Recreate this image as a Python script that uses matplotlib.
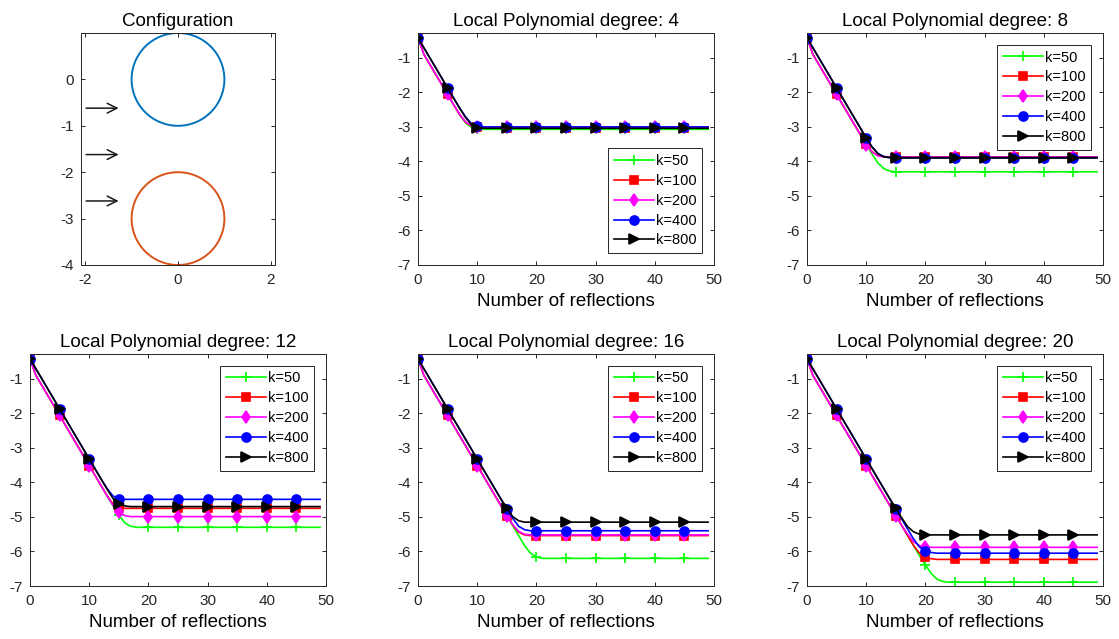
import matplotlib
matplotlib.use('Agg')
import matplotlib.pyplot as plt
from matplotlib.patches import Circle

plt.rcParams['font.family'] = ['Liberation Sans', 'DejaVu Sans']
plt.rcParams['axes.unicode_minus'] = False

# configuration panel: two circles and three incoming arrows
circle_centers = [(0.0, 0.0), (0.0, -3.0)]
circle_radii = [1.0, 1.0]
circle_colors = ['#0072BD', '#D95319']
arrow_y = [-0.62, -1.62, -2.62]
arrow_x_start = -1.98
arrow_x_end = -1.28

# error (log10) vs number of reflections, one list per degree and k
reflections = list(range(50))
k_labels = ['k=50', 'k=100', 'k=200', 'k=400', 'k=800']
degrees = [4, 8, 12, 16, 20]

deg4_k50 = [-0.42, -0.90, -1.19, -1.48, -1.77, -2.06, -2.35, -2.64, -2.88, -3.01, -3.06] + [-3.07] * 39
deg4_k100 = [-0.42, -0.90, -1.19, -1.48, -1.77, -2.06, -2.35, -2.63, -2.86, -2.97, -3.01] + [-3.02] * 39
deg4_k200 = [-0.42, -0.90, -1.19, -1.48, -1.77, -2.06, -2.35, -2.63, -2.85, -2.96, -3.00] + [-3.01] * 39
deg4_k400 = [-0.42, -0.71, -1.00, -1.29, -1.58, -1.87, -2.16, -2.44, -2.70, -2.90, -2.98] + [-3.00] * 39
deg4_k800 = [-0.42, -0.71, -1.00, -1.29, -1.58, -1.87, -2.16, -2.45, -2.72, -2.93, -3.02] + [-3.04] * 39

deg8_k50 = [-0.42, -0.90, -1.19, -1.48, -1.77, -2.06, -2.35, -2.64, -2.93, -3.22, -3.51,
            -3.79, -4.05, -4.21, -4.28] + [-4.30] * 35
deg8_k100 = [-0.42, -0.90, -1.19, -1.48, -1.77, -2.06, -2.35, -2.64, -2.93, -3.22, -3.50,
             -3.72, -3.83, -3.86] + [-3.87] * 36
deg8_k200 = [-0.42, -0.90, -1.19, -1.48, -1.77, -2.06, -2.35, -2.64, -2.93, -3.22, -3.51,
             -3.73, -3.84, -3.87] + [-3.88] * 36
deg8_k400 = [-0.42, -0.71, -1.00, -1.29, -1.58, -1.87, -2.16, -2.45, -2.74, -3.03, -3.32,
             -3.58, -3.77, -3.86] + [-3.89] * 36
deg8_k800 = [-0.42, -0.71, -1.00, -1.29, -1.58, -1.87, -2.16, -2.45, -2.74, -3.03, -3.32,
             -3.59, -3.78, -3.87, -3.89] + [-3.90] * 35

deg12_k50 = [-0.42, -0.90, -1.19, -1.48, -1.77, -2.06, -2.35, -2.64, -2.93, -3.22, -3.51,
             -3.80, -4.09, -4.38, -4.67, -4.94, -5.17, -5.27] + [-5.30] * 32
deg12_k100 = [-0.42, -0.90, -1.19, -1.48, -1.77, -2.06, -2.35, -2.64, -2.93, -3.22, -3.51,
              -3.80, -4.09, -4.38, -4.62, -4.72] + [-4.75] * 34
deg12_k200 = [-0.42, -0.90, -1.19, -1.48, -1.77, -2.06, -2.35, -2.64, -2.93, -3.22, -3.51,
              -3.80, -4.09, -4.38, -4.66, -4.86, -4.96] + [-4.99] * 33
deg12_k400 = [-0.42, -0.71, -1.00, -1.29, -1.58, -1.87, -2.16, -2.45, -2.74, -3.03, -3.32,
              -3.61, -3.90, -4.17, -4.39, -4.47] + [-4.49] * 34
deg12_k800 = [-0.42, -0.71, -1.00, -1.29, -1.58, -1.87, -2.16, -2.45, -2.74, -3.03, -3.32,
              -3.61, -3.90, -4.19, -4.46, -4.62, -4.68] + [-4.70] * 33

deg16_k50 = [-0.42, -0.90, -1.19, -1.48, -1.77, -2.06, -2.35, -2.64, -2.93, -3.22, -3.51,
             -3.80, -4.09, -4.38, -4.67, -4.96, -5.25, -5.54, -5.83, -6.05, -6.16] + [-6.20] * 29
deg16_k100 = [-0.42, -0.90, -1.19, -1.48, -1.77, -2.06, -2.35, -2.64, -2.93, -3.22, -3.51,
              -3.80, -4.09, -4.38, -4.67, -4.96, -5.23, -5.44, -5.52] + [-5.54] * 31
deg16_k200 = [-0.42, -0.90, -1.19, -1.48, -1.77, -2.06, -2.35, -2.64, -2.93, -3.22, -3.51,
              -3.80, -4.09, -4.38, -4.67, -4.96, -5.22, -5.42, -5.50] + [-5.52] * 31
deg16_k400 = [-0.42, -0.71, -1.00, -1.29, -1.58, -1.87, -2.16, -2.45, -2.74, -3.03, -3.32,
              -3.61, -3.90, -4.19, -4.48, -4.77, -5.04, -5.27, -5.37] + [-5.40] * 31
deg16_k800 = [-0.42, -0.71, -1.00, -1.29, -1.58, -1.87, -2.16, -2.45, -2.74, -3.03, -3.32,
              -3.61, -3.90, -4.19, -4.48, -4.74, -4.99, -5.11] + [-5.15] * 32

deg20_k50 = [-0.42, -0.90, -1.19, -1.48, -1.77, -2.06, -2.35, -2.64, -2.93, -3.22, -3.51,
             -3.80, -4.09, -4.38, -4.67, -4.96, -5.25, -5.54, -5.83, -6.12, -6.39,
             -6.64, -6.81, -6.87] + [-6.89] * 26
deg20_k100 = [-0.42, -0.90, -1.19, -1.48, -1.77, -2.06, -2.35, -2.64, -2.93, -3.22, -3.51,
              -3.80, -4.09, -4.38, -4.67, -4.96, -5.25, -5.54, -5.83, -6.05, -6.16,
              -6.21] + [-6.23] * 28
deg20_k200 = [-0.42, -0.90, -1.19, -1.48, -1.77, -2.06, -2.35, -2.64, -2.93, -3.22, -3.51,
              -3.80, -4.09, -4.38, -4.67, -4.96, -5.25, -5.50, -5.72, -5.83, -5.87] + [-5.88] * 29
deg20_k400 = [-0.42, -0.71, -1.00, -1.29, -1.58, -1.87, -2.16, -2.45, -2.74, -3.03, -3.32,
              -3.61, -3.90, -4.19, -4.48, -4.77, -5.06, -5.35, -5.64, -5.87, -5.98,
              -6.03] + [-6.05] * 28
deg20_k800 = [-0.42, -0.71, -1.00, -1.29, -1.58, -1.87, -2.16, -2.45, -2.74, -3.03, -3.32,
              -3.61, -3.90, -4.19, -4.48, -4.75, -5.03, -5.28, -5.43, -5.50] + [-5.52] * 30

series_by_degree = {
    4: [deg4_k50, deg4_k100, deg4_k200, deg4_k400, deg4_k800],
    8: [deg8_k50, deg8_k100, deg8_k200, deg8_k400, deg8_k800],
    12: [deg12_k50, deg12_k100, deg12_k200, deg12_k400, deg12_k800],
    16: [deg16_k50, deg16_k100, deg16_k200, deg16_k400, deg16_k800],
    20: [deg20_k50, deg20_k100, deg20_k200, deg20_k400, deg20_k800],
}

line_colors = ['#00FF00', '#FF0000', '#FF00FF', '#0000FF', '#000000']
line_markers = ['+', 's', 'd', 'o', '>']
marker_sizes = [7, 5.5, 6, 6.5, 7]

axis_color = '#262626'
W, H = 1119, 639
fig = plt.figure(figsize=(W / 100, H / 100), dpi=100)

col_left = [30, 418, 807]
row_top = [33, 354]
ax_w, ax_h = 296, 232


def make_axes(col, row):
    left = col_left[col] / W
    bottom = (H - row_top[row] - ax_h) / H
    ax = fig.add_axes([left, bottom, ax_w / W, ax_h / H])
    for s in ax.spines.values():
        s.set_color(axis_color)
        s.set_linewidth(0.7)
    ax.tick_params(direction='in', top=True, right=True, length=3,
                   width=0.7, color=axis_color, labelcolor=axis_color,
                   labelsize=11)
    ax.tick_params(axis='x', pad=6)
    ax.tick_params(axis='y', pad=5)
    return ax


# --- Configuration panel ---
ax = make_axes(0, 0)
for (cx, cy), r, c in zip(circle_centers, circle_radii, circle_colors):
    ax.add_patch(Circle((cx, cy), r, fill=False, edgecolor=c, linewidth=1.4))
for y in arrow_y:
    ax.annotate('', xy=(arrow_x_end, y), xytext=(arrow_x_start, y),
                arrowprops=dict(arrowstyle='->,head_length=0.7,head_width=0.35',
                                color='#1a1a1a', lw=1.1, shrinkA=0, shrinkB=0))
ax.set_xlim(-2.1, 2.1)
ax.set_ylim(-4, 1)
ax.set_aspect('equal', adjustable='box')
ax.set_xticks([-2, 0, 2])
ax.set_yticks([0, -1, -2, -3, -4])
ax.set_title('Configuration', fontsize=13.5, pad=5)

# --- Convergence panels ---
positions = [(1, 0), (2, 0), (0, 1), (1, 1), (2, 1)]
for deg, (col, row) in zip(degrees, positions):
    ax = make_axes(col, row)
    for vals, c, m, ms, lab in zip(series_by_degree[deg], line_colors,
                                   line_markers, marker_sizes, k_labels):
        ax.plot(reflections, vals, color=c, marker=m, markersize=ms,
                markevery=5, markerfacecolor=c, markeredgecolor=c,
                markeredgewidth=1.2, linewidth=1.2, label=lab)
    ax.set_xlim(0, 50)
    ax.set_ylim(-7, -0.28)
    ax.set_xticks([0, 10, 20, 30, 40, 50])
    ax.set_yticks([-1, -2, -3, -4, -5, -6, -7])
    ax.set_title(f'Local Polynomial degree: {deg}', fontsize=13.5, pad=5)
    ax.set_xlabel('Number of reflections', fontsize=13.5, labelpad=4)
    loc = 'lower right' if deg == 4 else 'upper right'
    leg = ax.legend(loc=loc, fontsize=10.5, handlelength=2.7,
                    handletextpad=0.15, labelspacing=0.4, borderpad=0.4,
                    borderaxespad=0.8, fancybox=False, framealpha=1)
    leg.get_frame().set_edgecolor(axis_color)
    leg.get_frame().set_linewidth(0.7)

fig.savefig('out.png', dpi=100)
